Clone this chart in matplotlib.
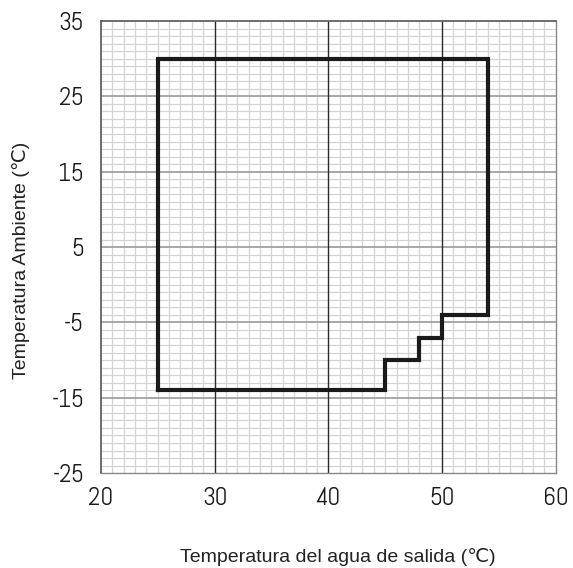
import numpy as np
import matplotlib.pyplot as plt
from matplotlib.ticker import MultipleLocator

plt.rcParams['axes.unicode_minus'] = False

# operating envelope (outlet water temp vs ambient temp)
env_x = [25, 25, 54, 54, 50, 50, 48, 48, 45, 45, 25]
env_y = [-14, 30, 30, -4, -4, -7, -7, -10, -10, -14, -14]

x_ticks = [20, 30, 40, 50, 60]
y_ticks = [-25, -15, -5, 5, 15, 25, 35]

fig = plt.figure(figsize=(5.73, 5.68), dpi=100)
ax = fig.add_axes([0.176, 0.167, 0.794, 0.796])

ax.set_xlim(20, 60)
ax.set_ylim(-25, 35)
ax.set_xticks(x_ticks)
ax.set_yticks(y_ticks)
ax.xaxis.set_minor_locator(MultipleLocator(1))
ax.yaxis.set_minor_locator(MultipleLocator(1))

# fine grid, then the heavier lines on top of it
ax.grid(which='minor', color='#d4d4d4', linewidth=0.9)
ax.set_axisbelow(True)
ax.hlines(y_ticks[1:-1], 20, 60, color='#9a9a9a', linewidth=1.2, zorder=1)
ax.vlines(x_ticks[1:-1], -25, 35, color='#2a2a2a', linewidth=1.0, zorder=1.1)

ax.plot(env_x, env_y, color='#1a1a1a', linewidth=3, solid_joinstyle='miter', zorder=3)

ax.tick_params(which='both', length=0)
ax.tick_params(axis='x', pad=10)
ax.tick_params(axis='y', pad=12)
for lab in ax.get_xticklabels() + ax.get_yticklabels():
    lab.set_fontfamily(['Abel', 'DejaVu Sans'])
    lab.set_fontsize(18)
    lab.set_color('#1a1a1a')

for s in ['top', 'left']:
    ax.spines[s].set_color('#555555')
    ax.spines[s].set_linewidth(1.2)
for s in ['bottom', 'right']:
    ax.spines[s].set_color('#888888')
    ax.spines[s].set_linewidth(1.0)

ax.set_xlabel('Temperatura del agua de salida (℃)', fontsize=14,
              family=['Liberation Sans', 'DejaVu Sans'], color='#222222')
ax.set_ylabel('Temperatura Ambiente (℃)', fontsize=14,
              family=['Liberation Sans', 'DejaVu Sans'], color='#222222')
ax.xaxis.set_label_coords(0.52, -0.165)
ax.yaxis.set_label_coords(-0.155, 0.47)

fig.savefig('out.png', dpi=100)
